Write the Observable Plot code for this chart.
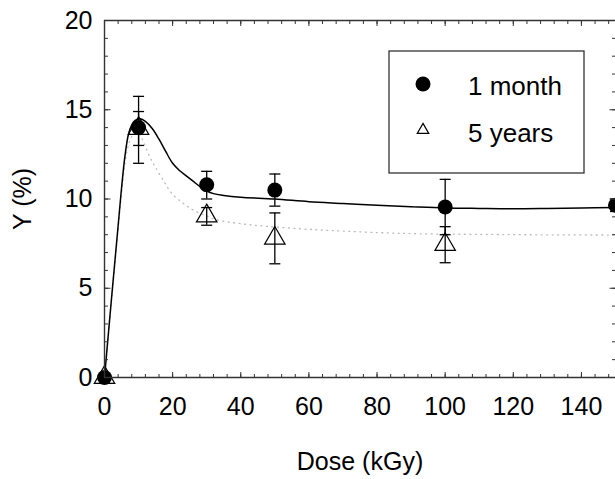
<!DOCTYPE html>
<html>
<head>
<meta charset="utf-8">
<script src="https://cdn.jsdelivr.net/npm/d3@7"></script>
<script src="https://cdn.jsdelivr.net/npm/@observablehq/plot@0.6"></script>
<style>
  html, body { margin: 0; padding: 0; background: #fff; }
  #wrap { position: relative; width: 615px; height: 479px; overflow: hidden; font-family: "Liberation Sans", Arial, sans-serif; }
  #legend { position: absolute; left: 388px; top: 50px; }
</style>
</head>
<body>
<div id="wrap"></div>
<script>
// ---- data ----
const doses1m = [0, 10, 30, 50, 100, 150];
const mean1m  = [0, 14.0, 10.8, 10.5, 9.55, 9.65];
const lo1m    = [0, 12.0, 10.0, 9.6, 8.0, 9.3];
const hi1m    = [0, 15.75, 11.55, 11.4, 11.1, 10.0];

const doses5y = [0, 10, 30, 50, 100];
const mean5y  = [0, 13.95, 9.05, 7.8, 7.45];
const lo5y    = [0, 13.0, 8.53, 6.37, 6.43];
const hi5y    = [0, 14.9, 9.52, 9.22, 8.45];

// fitted curves
const fit1mDose = [0, 2, 4, 5, 6, 7, 8, 9, 10.5, 12, 14, 16, 18, 20, 22, 24, 26, 28, 30, 32, 35, 40, 50, 60, 70, 80, 90, 100, 110, 120, 130, 140, 150];
const fit1mY    = [0, 4.3, 8.5, 10.6, 12.4, 13.6, 14.15, 14.4, 14.5, 14.35, 13.95, 13.35, 12.65, 12.0, 11.6, 11.3, 11.0, 10.7, 10.45, 10.3, 10.2, 10.1, 10.0, 9.85, 9.75, 9.65, 9.57, 9.5, 9.47, 9.45, 9.47, 9.5, 9.52];
const fit5yDose = [0, 2, 4, 5, 6, 7, 8, 9, 10, 11, 12.5, 14, 15.2, 17.4, 19.8, 23.3, 26.2, 30, 33, 40, 47.6, 60, 67.2, 80, 92.7, 110, 122, 135, 150];
const fit5yY    = [0, 4.2, 8.3, 10.3, 12.0, 13.0, 13.5, 13.7, 13.7, 13.4, 12.7, 12.1, 11.7, 11.0, 10.3, 9.73, 9.36, 9.05, 8.83, 8.62, 8.47, 8.3, 8.23, 8.12, 8.05, 8.02, 8.0, 7.99, 7.98];

const xMajor = [0, 20, 40, 60, 80, 100, 120, 140];
const xMinor = d3.range(0, 151, 4);
const yMajor = [0, 5, 10, 15, 20];
const yMinor = d3.range(0, 21, 1);

const legendLabels = ["1 month", "5 years"];
const xLabel = "Dose (kGy)";
const yLabel = "Y (%)";

// ---- build tables ----
const pts1m = doses1m.map((d, i) => ({x: d, y: mean1m[i], lo: lo1m[i], hi: hi1m[i]}));
const pts5y = doses5y.map((d, i) => ({x: d, y: mean5y[i], lo: lo5y[i], hi: hi5y[i]}));
const bars = [...pts1m, ...pts5y].filter(d => d.hi > d.lo);
const caps = bars.flatMap(d => [{x: d.x, y: d.lo}, {x: d.x, y: d.hi}]);
const fit1m = fit1mDose.map((d, i) => ({x: d, y: fit1mY[i]}));
const fit5y = fit5yDose.map((d, i) => ({x: d, y: fit5yY[i]}));

const capSymbol = {
  draw(context, size) {
    const w = Math.sqrt(size / Math.PI);
    context.moveTo(-w, 0);
    context.lineTo(w, 0);
  }
};

const axisColor = "#333";
const none = () => "";

const chart = Plot.plot({
  width: 615,
  height: 479,
  marginLeft: 104,
  marginRight: 0,
  marginTop: 20,
  marginBottom: 102,
  style: {fontFamily: "'Liberation Sans', Arial, sans-serif", fontSize: "25px", background: "white", color: "black"},
  x: {domain: [0, 150], axis: null},
  y: {domain: [0, 20], axis: null},
  marks: [
    // fitted curves
    Plot.line(fit5y, {x: "x", y: "y", curve: "catmull-rom", stroke: "#bbb", strokeWidth: 1.3, strokeDasharray: "1,4.5"}),
    Plot.line(fit1m, {x: "x", y: "y", curve: "catmull-rom", stroke: "black", strokeWidth: 1.5}),
    // error bars
    Plot.ruleX(bars, {x: "x", y1: "lo", y2: "hi", stroke: "black", strokeWidth: 1.3}),
    Plot.dot(caps, {x: "x", y: "y", symbol: capSymbol, r: 5.5, stroke: "black", strokeWidth: 1.3, fill: "none"}),
    // points
    Plot.dot(pts5y, {x: "x", y: "y", symbol: "triangle", r: 7.6, stroke: "black", strokeWidth: 1.2, fill: "none"}),
    Plot.dot(pts1m, {x: "x", y: "y", r: 7.5, fill: "black", stroke: "none"}),
    // frame (left, top, bottom)
    Plot.ruleX([0], {stroke: axisColor, strokeWidth: 1.4}),
    Plot.ruleY([0], {stroke: axisColor, strokeWidth: 1.4}),
    Plot.ruleY([20], {stroke: axisColor, strokeWidth: 1.4}),
    // inward ticks - bottom
    Plot.axisX({anchor: "bottom", ticks: xMajor, tickSize: 5, dy: -5, tickFormat: none, label: null, stroke: axisColor}),
    Plot.axisX({anchor: "bottom", ticks: xMinor, tickSize: 3, dy: -3, tickFormat: none, label: null, stroke: axisColor}),
    // inward ticks - top
    Plot.axisX({anchor: "top", ticks: xMajor, tickSize: 5, dy: 5, tickFormat: none, label: null, stroke: axisColor}),
    Plot.axisX({anchor: "top", ticks: xMinor, tickSize: 3, dy: 3, tickFormat: none, label: null, stroke: axisColor}),
    // inward ticks - left
    Plot.axisY({anchor: "left", ticks: yMajor, tickSize: 6.5, dx: 6.5, tickFormat: none, label: null, stroke: axisColor}),
    Plot.axisY({anchor: "left", ticks: yMinor, tickSize: 4, dx: 4, tickFormat: none, label: null, stroke: axisColor}),
    // inward ticks - right
    Plot.axisY({anchor: "right", ticks: yMajor, tickSize: 6.5, dx: -6.5, tickFormat: none, label: null, stroke: axisColor}),
    Plot.axisY({anchor: "right", ticks: yMinor, tickSize: 4, dx: -4, tickFormat: none, label: null, stroke: axisColor}),
    // tick labels and axis titles
    Plot.axisX({anchor: "bottom", ticks: xMajor, tickSize: 0, tickPadding: 20, fontSize: 25, fill: "black",
      label: xLabel, labelAnchor: "center", labelOffset: 92, labelArrow: false}),
    Plot.axisY({anchor: "left", ticks: yMajor, tickSize: 0, tickPadding: 12, fontSize: 25, fill: "black",
      label: yLabel, labelAnchor: "center", labelOffset: 91, labelArrow: false})
  ]
});

const wrap = document.getElementById("wrap");
wrap.appendChild(chart);

// legend box inside the plot area
const ns = "http://www.w3.org/2000/svg";
const leg = document.createElementNS(ns, "svg");
leg.setAttribute("id", "legend");
leg.setAttribute("width", "198");
leg.setAttribute("height", "125");
leg.innerHTML = `
  <rect x="1" y="1" width="195" height="122" fill="white" stroke="${axisColor}" stroke-width="1.3"/>
  <circle cx="35" cy="34" r="7.5" fill="black"/>
  <path d="${d3.symbol(d3.symbolTriangle2, 95)()}" transform="translate(35,80)" fill="none" stroke="black" stroke-width="1.2"/>
  <text x="80" y="45" font-size="26" font-family="'Liberation Sans', Arial, sans-serif">${legendLabels[0]}</text>
  <text x="80" y="91.5" font-size="26" font-family="'Liberation Sans', Arial, sans-serif">${legendLabels[1]}</text>
`;
wrap.appendChild(leg);
</script>
</body>
</html>
